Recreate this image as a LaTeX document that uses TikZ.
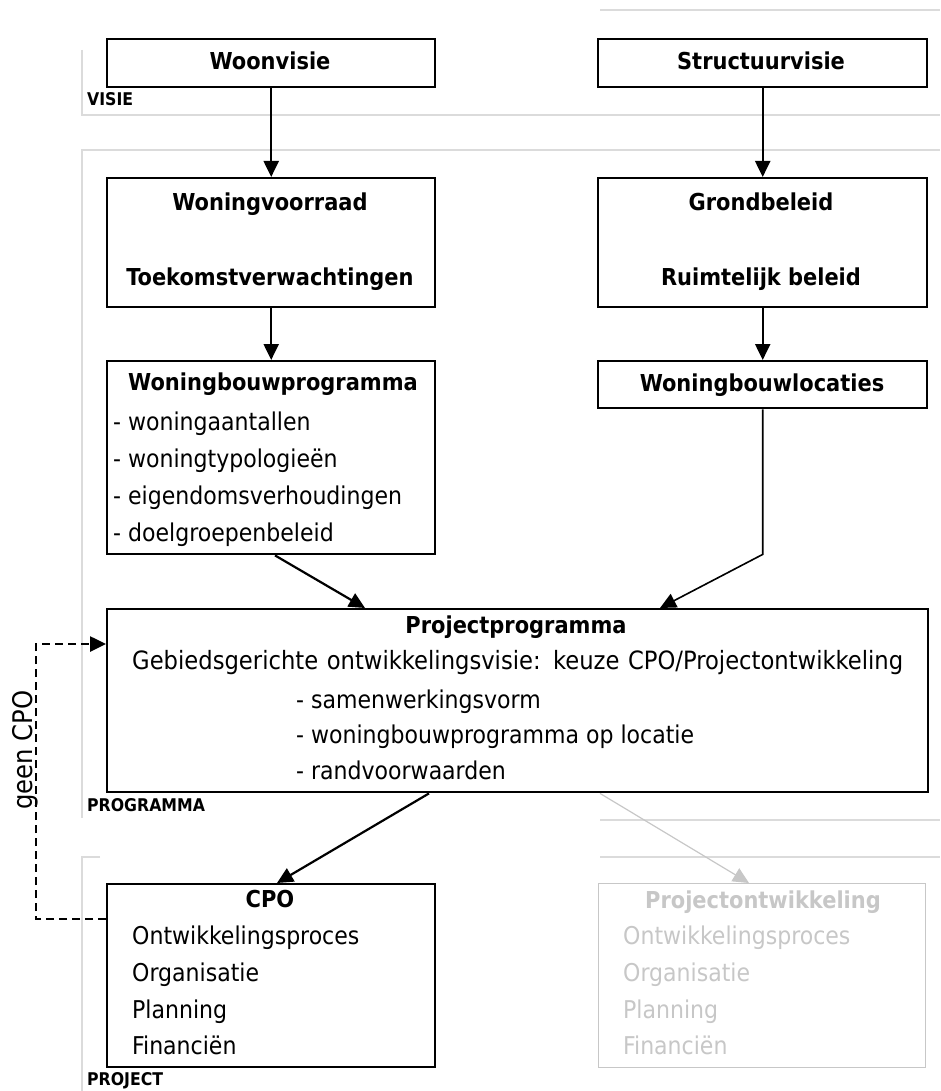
\documentclass[tikz,border=0pt]{standalone}
\usepackage{fontspec}
\setmainfont{DejaVu Sans Condensed}
\usetikzlibrary{arrows.meta}
\definecolor{zone}{gray}{0.86}
\definecolor{faded}{gray}{0.78}
\begin{document}
\begin{tikzpicture}[x=1pt,y=-1pt,
  box/.style={draw, line width=2.4pt, inner sep=0pt, anchor=north west},
  fadedbox/.style={box, draw=faded, line width=1.4pt},
  txt/.style={inner sep=0pt, font=\fontsize{24.5}{28}\selectfont},
  head/.style={inner sep=0pt, anchor=base, font=\fontsize{23.3}{28}\selectfont\bfseries},
  item/.style={txt, anchor=base west},
  zonelabel/.style={inner sep=0pt, anchor=base west, font=\fontsize{17.5}{20}\selectfont\bfseries},
  zoneline/.style={draw=zone, line width=1.3pt},
  arr/.style={line width=2.2pt, -{Triangle[length=16pt,width=15pt]}},
]
\useasboundingbox (0,0) rectangle (940,1091);

% background zones
\draw[zoneline] (600,10) -- (940,10);
\draw[zoneline] (82,50) -- (82,115) -- (940,115);
\draw[zoneline] (940,150) -- (82,150) -- (82,818);
\draw[zoneline] (600,820) -- (940,820);
\draw[zoneline] (100,857) -- (82,857) -- (82,1091);
\draw[zoneline] (600,857) -- (940,857);
\node[zonelabel] (lvisie) at (87,106) {VISIE};
\node[zonelabel] (lprog) at (87,811) {PROGRAMMA};
\node[zonelabel] (lproj) at (87,1085) {PROJECT};

% boxes
\node[box, minimum width=328pt, minimum height=48pt] (woon) at (106,38) {};
\node[box, minimum width=329pt, minimum height=48pt] (struct) at (597,38) {};
\node[box, minimum width=328pt, minimum height=129pt] (voorraad) at (106,177) {};
\node[box, minimum width=329pt, minimum height=129pt] (grond) at (597,177) {};
\node[box, minimum width=328pt, minimum height=193pt] (wbp) at (106,360) {};
\node[box, minimum width=329pt, minimum height=47pt] (loc) at (597,360) {};
\node[box, minimum width=821pt, minimum height=183pt] (pp) at (106,608) {};
\node[box, minimum width=328pt, minimum height=183pt] (cpo) at (106,883) {};
\node[fadedbox, minimum width=327pt, minimum height=184pt] (pd) at (598,883) {};

% texts
\node[head] (twoon) at (270,70) {Woonvisie};
\node[head] (tstruct) at (761,70) {Structuurvisie};
\node[head] (tvoorraad) at (270,211) {Woningvoorraad};
\node[head] (ttoekomst) at (270,285) {Toekomstverwachtingen};
\node[head] (tgrond) at (761,211) {Grondbeleid};
\node[head] (truimte) at (761,285) {Ruimtelijk beleid};
\node[head] (twbp) at (273,390) {Woningbouwprogramma};
\node[item] (w1) at (113,430) {- woningaantallen};
\node[item] (w2) at (113,467) {- woningtypologieën};
\node[item] (w3) at (113,504) {- eigendomsverhoudingen};
\node[item] (w4) at (113,541) {- doelgroepenbeleid};
\node[head] (tloc) at (762,391) {Woningbouwlocaties};
\node[head] (tpp) at (516,633) {Projectprogramma};
\node[item, font=\fontsize{25.2}{28}\selectfont] (pp0) at (132,669) {\makebox[771pt][s]{Gebiedsgerichte ontwikkelingsvisie: keuze CPO/Projectontwikkeling}};
\node[item] (pp1) at (296,708) {- samenwerkingsvorm};
\node[item] (pp2) at (296,743) {- woningbouwprogramma op locatie};
\node[item] (pp3) at (296,779) {- randvoorwaarden};
\node[head] (tcpo) at (270,907) {CPO};
\node[item] (c1) at (132,944) {Ontwikkelingsproces};
\node[item] (c2) at (132,981) {Organisatie};
\node[item] (c3) at (132,1018) {Planning};
\node[item] (c4) at (132,1054) {Financiën};
\node[head, text=faded] (tpd) at (763,908) {Projectontwikkeling};
\node[item, text=faded] (d1) at (623,944) {Ontwikkelingsproces};
\node[item, text=faded] (d2) at (623,981) {Organisatie};
\node[item, text=faded] (d3) at (623,1018) {Planning};
\node[item, text=faded] (d4) at (623,1054) {Financiën};
\node[inner sep=0pt, font=\fontsize{27}{30}\selectfont, rotate=90, anchor=base] (geen) at (32,750) {geen CPO};

% connectors
\draw[arr] (woon.south) -- (voorraad.north);
\draw[arr] (struct.south) -- (grond.north);
\draw[arr] (voorraad.south) -- (wbp.north);
\draw[arr] (grond.south) -- (loc.north);
\draw[arr] ([xshift=169pt]wbp.south west) -- ([xshift=259pt]pp.north west);
\draw[arr, line width=1.6pt] (loc.south) -- ([yshift=-145pt]loc.south) -- ([xshift=554pt]pp.north west);
\draw[arr] ([xshift=323pt]pp.south west) -- ([xshift=171pt]cpo.north west);
\draw[arr, draw=faded, line width=1.2pt] ([xshift=494pt]pp.south west) -- ([xshift=151pt]pd.north west);
\draw[arr, line width=2.6pt, dash pattern=on 8pt off 5pt] ([yshift=-36pt]cpo.north west) -- ++(-70,0) |- ([yshift=-36pt]pp.north west);
\end{tikzpicture}
\end{document}
